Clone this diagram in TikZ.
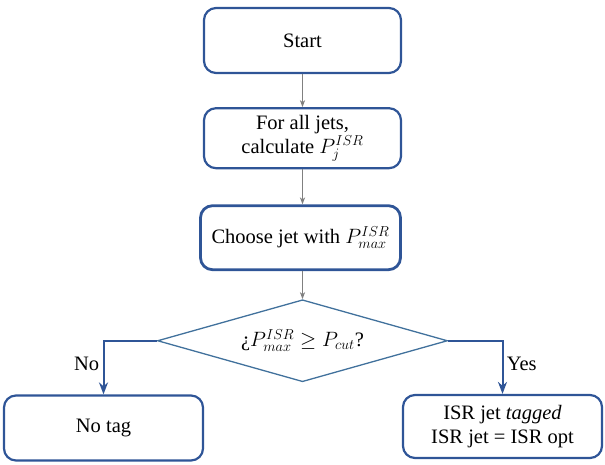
\documentclass[tikz,border=0pt]{standalone}
\usepackage{amsmath}
\usepackage{fontspec}
\setmainfont{Liberation Serif}
\usepackage{tikz}
\usetikzlibrary{positioning, arrows.meta, shapes.geometric}
\definecolor{boxblue}{HTML}{2F5597}
\definecolor{dmdblue}{HTML}{41719C}
\definecolor{flowgray}{HTML}{808080}

\begin{document}
\begin{tikzpicture}[
    x=1pt, y=1pt,
    node distance=35pt,
    >=Stealth,
    every node/.style={font=\fontsize{20.5}{24}\selectfont},
    stepbox/.style={draw=boxblue, line width=2.2pt, rounded corners=12pt,
        minimum width=197pt, align=center, inner sep=2pt},
    testbox/.style={draw=dmdblue, line width=1.3pt, diamond, aspect=3.5,
        minimum width=290pt, minimum height=82pt, inner sep=0pt},
    grayarrow/.style={->, flowgray, line width=0.9pt},
    bluearrow/.style={->, boxblue, line width=2pt}
]
    \useasboundingbox (0,0) rectangle (605,-465);

    % Define nodes
    \node (start) [stepbox, minimum height=65pt] at (302.5,-40.5) {Start};
    \node (calc) [stepbox, minimum height=60pt, below=33pt of start]
        {For all jets,\\calculate $P_j^{ISR}$};
    \node (choose) [stepbox, line width=2.8pt, minimum width=200pt,
        minimum height=64pt, below=35pt of calc, xshift=-2pt]
        {Choose jet with $P_{max}^{ISR}$};
    \node (test) [testbox, below=28pt of choose, xshift=2pt]
        {¿$P_{max}^{ISR} \geq P_{cut}$?};
    \node (notag) [stepbox, minimum height=65pt, minimum width=199pt] at (103.5,-428) {No tag};
    \node (yestag) [stepbox, minimum height=63pt, minimum width=199pt] at (502.5,-426.5)
        {ISR jet \textit{tagged}\\ISR jet = ISR opt};

    % Draw arrows
    \draw[grayarrow] (start) -- (calc);
    \draw[grayarrow] (calc) -- (choose.north -| calc);
    \draw[grayarrow] (choose.south -| calc) -- (test);
    \draw[bluearrow] (test.west) -| node[pos=0.72, left, text=black] {No} (notag.north);
    \draw[bluearrow] (test.east) -| node[pos=0.72, right, text=black] {Yes} (yestag.north);
\end{tikzpicture}
\end{document}
